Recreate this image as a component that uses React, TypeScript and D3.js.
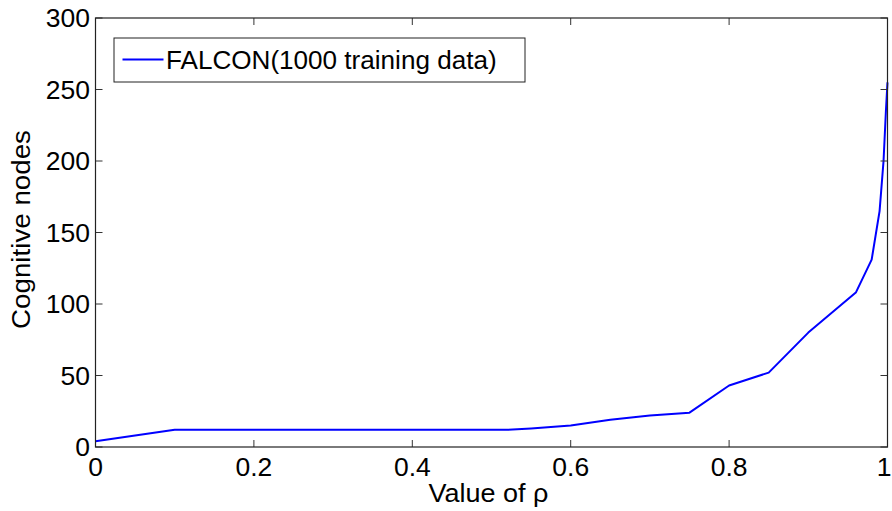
import React from "react";
import * as d3 from "d3";

// Vigilance parameter rho and the resulting number of cognitive nodes
const rhoValues = [0, 0.1, 0.2, 0.3, 0.4, 0.5, 0.52, 0.55, 0.6, 0.65, 0.7, 0.75, 0.8, 0.85, 0.9, 0.96, 0.98, 0.99, 0.995, 0.998, 1];
const nodeCounts = [4, 12, 12, 12, 12, 12, 12, 13, 15, 19, 22, 24, 43, 52, 80, 108, 131, 165, 200, 235, 255];

const xTicks = [0, 0.2, 0.4, 0.6, 0.8, 1];
const xTickLabels = ["0", "0.2", "0.4", "0.6", "0.8", "1"];
const yTicks = [0, 50, 100, 150, 200, 250, 300];
const yTickLabels = ["0", "50", "100", "150", "200", "250", "300"];

const seriesName = "FALCON(1000 training data)";
const xTitle = "Value of ";
const xTitleSymbol = "ρ";
const yTitle = "Cognitive nodes";

const W = 892;
const H = 511;
const plot = { left: 95.5, right: 887.5, top: 18, bottom: 447 };
const FONT = "Liberation Sans, Arial, Helvetica, sans-serif";
const tickLen = 7;

// text stretched horizontally around its anchor point
function Label(props: {
  x: number;
  y: number;
  sx: number;
  anchor?: "start" | "middle" | "end";
  rotate?: number;
  children: React.ReactNode;
}) {
  const { x, y, sx, anchor = "start", rotate = 0, children } = props;
  return (
    <text
      transform={`translate(${x},${y}) rotate(${rotate}) scale(${sx},1)`}
      fontSize={25}
      textAnchor={anchor}
      fill="#000"
    >
      {children}
    </text>
  );
}

export default function App() {
  const x = d3.scaleLinear().domain([0, 1]).range([plot.left, plot.right]);
  const y = d3.scaleLinear().domain([0, 300]).range([plot.bottom, plot.top]);

  const points: [number, number][] = rhoValues.map((r, i) => [r, nodeCounts[i]]);
  const line = d3
    .line<[number, number]>()
    .x((d) => x(d[0]))
    .y((d) => y(d[1]));

  return (
    <svg
      width={W}
      height={H}
      style={{ position: "fixed", left: 0, top: 0, background: "#fff" }}
      fontFamily={FONT}
    >
      <rect x={0} y={0} width={W} height={H} fill="#fff" />

      {/* data line */}
      <path d={line(points) ?? ""} fill="none" stroke="#0000ff" strokeWidth={2} strokeLinejoin="round" />

      {/* x ticks on bottom and top edges */}
      {xTicks.map((t, i) => {
        const last = i === xTicks.length - 1;
        return (
          <g key={"xt" + i}>
            <line x1={x(t)} x2={x(t)} y1={plot.bottom} y2={plot.bottom - tickLen} stroke="#333" strokeWidth={1} />
            <line x1={x(t)} x2={x(t)} y1={plot.top} y2={plot.top + tickLen} stroke="#333" strokeWidth={1} />
            <Label x={last ? W - 0.5 : x(t)} y={476} sx={1.06} anchor={last ? "end" : "middle"}>
              {xTickLabels[i]}
            </Label>
          </g>
        );
      })}

      {/* y ticks on left and right edges */}
      {yTicks.map((t, i) => (
        <g key={"yt" + i}>
          <line x1={plot.left} x2={plot.left + tickLen} y1={y(t)} y2={y(t)} stroke="#333" strokeWidth={1} />
          <line x1={plot.right} x2={plot.right - tickLen} y1={y(t)} y2={y(t)} stroke="#333" strokeWidth={1} />
          <Label x={90} y={y(t) + 9} sx={1.06} anchor="end">
            {yTickLabels[i]}
          </Label>
        </g>
      ))}

      {/* axes box */}
      <rect
        x={plot.left}
        y={plot.top}
        width={plot.right - plot.left}
        height={plot.bottom - plot.top}
        fill="none"
        stroke="#222"
        strokeWidth={1.2}
      />

      {/* axis titles */}
      <Label x={(plot.left + plot.right) / 2 - 3} y={502} sx={1.08} anchor="middle">
        {xTitle}
        <tspan>{xTitleSymbol}</tspan>
      </Label>
      <Label x={30} y={(plot.top + plot.bottom) / 2 - 3} sx={1.11} anchor="middle" rotate={-90}>
        {yTitle}
      </Label>

      {/* legend */}
      <g>
        <rect x={114} y={38} width={411} height={44} fill="#fff" stroke="#222" strokeWidth={1} />
        <line x1={122.5} x2={163.5} y1={59.5} y2={59.5} stroke="#0000ff" strokeWidth={2} />
        <Label x={166} y={68.5} sx={1.044}>
          {seriesName}
        </Label>
      </g>
    </svg>
  );
}
